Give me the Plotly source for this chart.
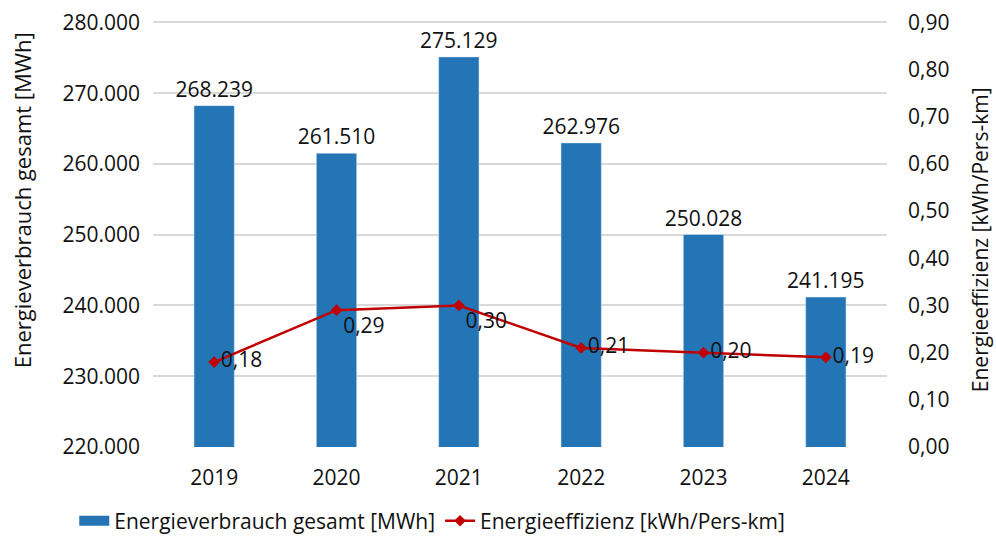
import plotly.graph_objects as go

years = ["2019", "2020", "2021", "2022", "2023", "2024"]
verbrauch_mwh = [268239, 261510, 275129, 262976, 250028, 241195]
effizienz = [0.18, 0.29, 0.30, 0.21, 0.20, 0.19]

verbrauch_labels = [f"{v:,}".replace(",", ".") for v in verbrauch_mwh]
effizienz_labels = [f"{v:.2f}".replace(".", ",") for v in effizienz]

font = "Open Sans, Noto Sans, sans-serif"
bar_color = "#2475B5"
line_color = "#C00000"

fig = go.Figure()
fig.add_trace(
    go.Bar(
        x=years,
        y=verbrauch_mwh,
        name="Energieverbrauch gesamt [MWh]",
        marker_color=bar_color,
        text=verbrauch_labels,
        textposition="outside",
        constraintext="none",
        textfont=dict(size=21, color="#111111"),
        cliponaxis=False,
        width=0.33,
        showlegend=False,
    )
)
# legend entry drawn as a wide block, like the original
fig.add_trace(
    go.Scatter(
        x=[years[0]],
        y=[None],
        yaxis="y2",
        name="Energieverbrauch gesamt [MWh]",
        mode="lines",
        line=dict(color=bar_color, width=14),
    )
)
fig.add_trace(
    go.Scatter(
        x=years,
        y=effizienz,
        name="Energieeffizienz [kWh/Pers-km]",
        yaxis="y2",
        mode="lines+markers+text",
        line=dict(color=line_color, width=2.5),
        marker=dict(symbol="diamond", size=9, color=line_color),
        text=effizienz_labels,
        textposition=["middle right", "bottom right", "bottom right",
                      "middle right", "middle right", "middle right"],
        textfont=dict(size=21, color="#111111"),
        cliponaxis=False,
    )
)

fig.update_layout(
    width=996,
    height=540,
    separators=",.",
    plot_bgcolor="white",
    paper_bgcolor="white",
    font=dict(family=font, size=21, color="#111111"),
    margin=dict(l=153, r=109, t=21, b=93, autoexpand=False),
    bargap=0.67,
    showlegend=True,
    legend=dict(
        orientation="h",
        x=0.434,
        xanchor="center",
        xref="container",
        yref="container",
        y=0.035,
        yanchor="middle",
        font=dict(size=21),
        itemwidth=30,
    ),
    xaxis=dict(
        showline=False,
        ticks="",
        tickfont=dict(size=21),
        ticklabelstandoff=16,
    ),
    yaxis=dict(
        # a hair above 280.000 so the top gridline is not dropped at the edge
        range=[220000, 280200],
        dtick=10000,
        tickformat=",.0f",
        showgrid=True,
        gridcolor="#D9D9D9",
        gridwidth=1.5,
        zeroline=False,
        tickfont=dict(size=21),
        ticks="",
        ticklabelstandoff=12,
    ),
    yaxis2=dict(
        overlaying="y",
        side="right",
        range=[0, 0.903],
        dtick=0.1,
        tickformat=".2f",
        showgrid=False,
        zeroline=False,
        tickfont=dict(size=21),
        ticks="",
        ticklabelstandoff=20,
    ),
    annotations=[
        dict(
            text="Energieverbrauch gesamt [MWh]",
            xref="paper", yref="paper",
            x=-0.178, y=0.58,
            xanchor="center", yanchor="middle",
            textangle=-90,
            showarrow=False,
            font=dict(size=22),
        ),
        dict(
            text="Energieeffizienz [kWh/Pers-km]",
            xref="paper", yref="paper",
            x=1.127, y=0.486,
            xanchor="center", yanchor="middle",
            textangle=-90,
            showarrow=False,
            font=dict(size=21),
        ),
    ],
)

# page body has a default 8px margin; drop it so the figure sits at the corner
fig.write_html(
    "out.html",
    config={"displayModeBar": False},
    post_script="document.body.style.margin = '0';",
)
